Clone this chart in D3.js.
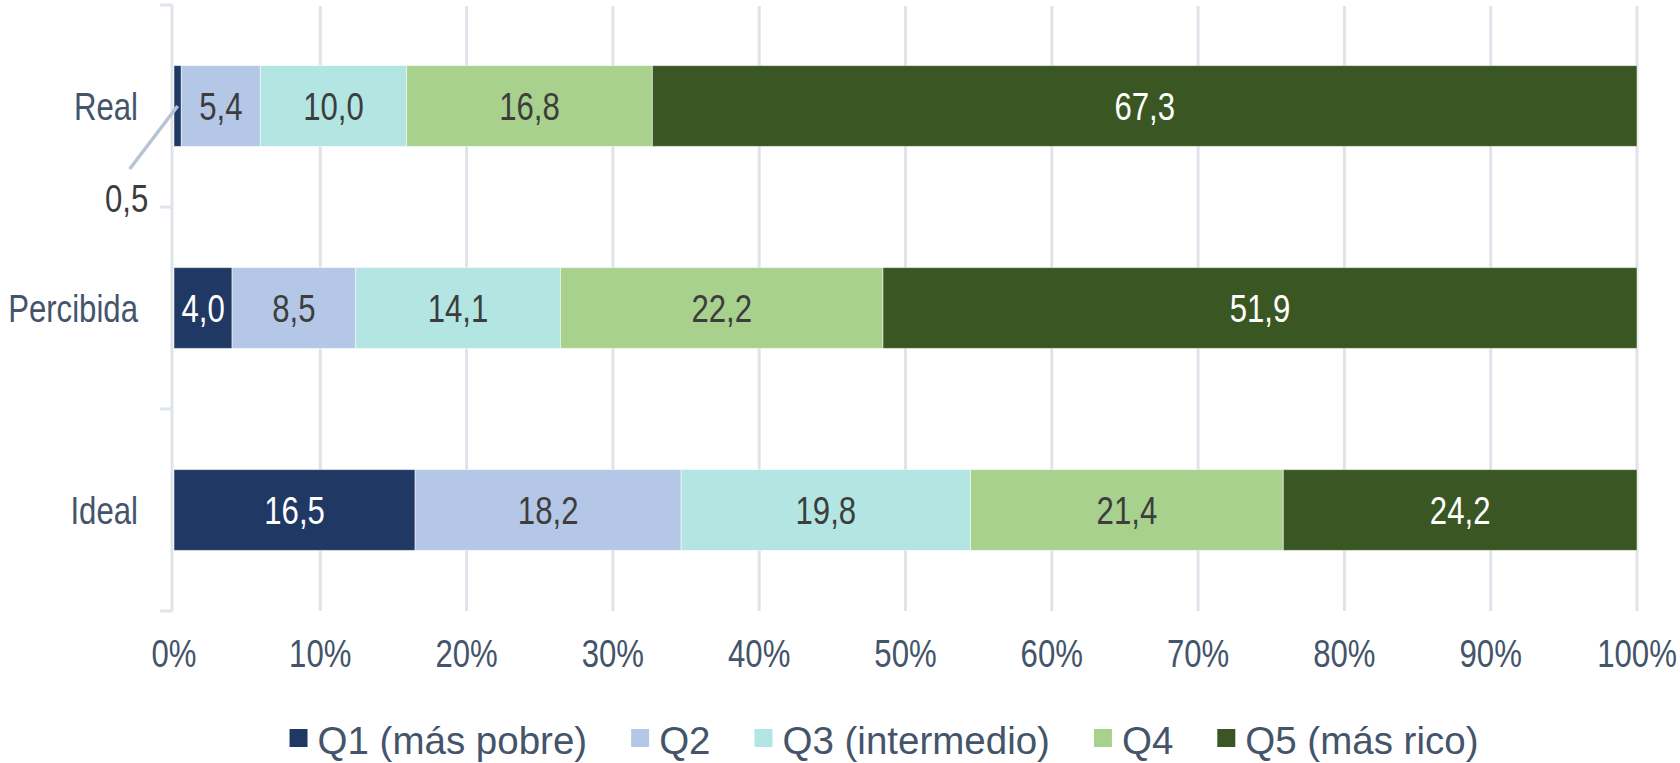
<!DOCTYPE html>
<html>
<head>
<meta charset="utf-8">
<script src="https://cdn.jsdelivr.net/npm/d3@7"></script>
<style>
  body { margin: 0; background: #fff; }
  text { font-family: "Liberation Sans", Arial, sans-serif; }
</style>
</head>
<body>
<div id="chart"></div>
<script>
// data
const categories = ["Real", "Percibida", "Ideal"];
const seriesNames = ["Q1 (más pobre)", "Q2", "Q3 (intermedio)", "Q4", "Q5 (más rico)"];
const q1 = [0.5, 4.0, 16.5];
const q2 = [5.4, 8.5, 18.2];
const q3 = [10.0, 14.1, 19.8];
const q4 = [16.8, 22.2, 21.4];
const q5 = [67.3, 51.9, 24.2];
const tickValues = [0, 0.1, 0.2, 0.3, 0.4, 0.5, 0.6, 0.7, 0.8, 0.9, 1];

const colors = ["#203864", "#b4c7e7", "#b3e5e3", "#a9d18e", "#3a5723"];
const labelColors = ["#ffffff", "#3d3d3d", "#3d3d3d", "#3d3d3d", "#ffffff"];
const axisText = "#44546a";
const gridColor = "#dfe3ea";
const NARROW = 0.82; // no Arial Narrow installed, squeeze Liberation Sans instead

const W = 1680, H = 763;
const margin = {top: 5, right: 43, bottom: 152, left: 174};
const width = W - margin.left - margin.right;
const height = H - margin.top - margin.bottom;

const rows = categories.map((c, i) => ({cat: c, s0: q1[i], s1: q2[i], s2: q3[i], s3: q4[i], s4: q5[i]}));
const keys = ["s0", "s1", "s2", "s3", "s4"];
const stacked = d3.stack().keys(keys).offset(d3.stackOffsetExpand)(rows);

const svg = d3.select("#chart").append("svg")
    .attr("width", W)
    .attr("height", H);

const g = svg.append("g")
    .attr("transform", `translate(${margin.left},${margin.top})`);

const x = d3.scaleLinear().domain([0, 1]).range([0, width]);
const y = d3.scaleBand().domain(categories).range([0, height])
    .paddingInner(0.6).paddingOuter(0.3);

// narrow text helper
function narrowText(parent, tx, ty, txt, anchor, color, size) {
    return parent.append("text")
        .attr("transform", `translate(${tx},${ty}) scale(${NARROW},1)`)
        .attr("text-anchor", anchor)
        .attr("dominant-baseline", "central")
        .attr("font-size", size)
        .attr("fill", color)
        .text(txt);
}

// gridlines
g.append("g")
    .selectAll("line")
    .data(tickValues.slice(1))
    .enter().append("line")
    .attr("x1", d => x(d)).attr("x2", d => x(d))
    .attr("y1", 1).attr("y2", height)
    .attr("stroke", gridColor)
    .attr("stroke-width", 3);

// left axis (category boundaries)
const yBounds = [0, ...categories.slice(1).map(c => y(c) - y.step() * y.paddingInner() / 2), height];
const yAxis = g.append("g");
yAxis.append("line")
    .attr("x1", -2).attr("x2", -2)
    .attr("y1", 0).attr("y2", height)
    .attr("stroke", gridColor).attr("stroke-width", 3);
yAxis.selectAll(".tk")
    .data(yBounds)
    .enter().append("line")
    .attr("class", "tk")
    .attr("x1", -14).attr("x2", -2)
    .attr("y1", d => d).attr("y2", d => d)
    .attr("stroke", gridColor).attr("stroke-width", 3);

// category labels
categories.forEach(c => {
    narrowText(g, -36, y(c) + y.bandwidth() / 2 + 1, c, "end", axisText, 38);
});

// bars
const layers = g.selectAll(".layer")
    .data(stacked)
    .enter().append("g")
    .attr("class", "layer")
    .attr("fill", (d, i) => colors[i]);

layers.selectAll("rect")
    .data(d => d)
    .enter().append("rect")
    .attr("x", d => x(d[0]))
    .attr("y", d => y(d.data.cat))
    .attr("width", d => x(d[1]) - x(d[0]))
    .attr("height", y.bandwidth())
    .attr("stroke", "#ffffff")
    .attr("stroke-opacity", 0.5)
    .attr("stroke-width", 1);

// value labels
const fmt = v => d3.format(".1f")(v).replace(".", ",");
stacked.forEach((layer, li) => {
    layer.forEach(d => {
        const v = d.data[keys[li]];
        const cx = (x(d[0]) + x(d[1])) / 2;
        const cy = y(d.data.cat) + y.bandwidth() / 2;
        if (v < 1) {
            // small value: leader line + label outside
            g.append("line")
                .attr("x1", cx).attr("y1", cy)
                .attr("x2", cx - 48).attr("y2", cy + 63)
                .attr("stroke", "#b8c4d3").attr("stroke-width", 3.5);
            narrowText(g, cx - 51, cy + 93, fmt(v), "middle", "#3d3d3d", 38);
        } else {
            narrowText(g, cx, cy + 1, fmt(v), "middle", labelColors[li], 38);
        }
    });
});

// x axis labels
const xAxis = g.append("g")
    .attr("transform", `translate(0,${height + 43})`);
tickValues.forEach(t => {
    narrowText(xAxis, x(t), 0, d3.format(".0%")(t), "middle", axisText, 38);
});

// legend
const legend = svg.append("g");
const items = legend.selectAll(".item")
    .data(seriesNames)
    .enter().append("g")
    .attr("class", "item");
items.append("rect")
    .attr("width", 18).attr("height", 18)
    .attr("y", -9)
    .attr("fill", (d, i) => colors[i]);
items.append("text")
    .attr("x", 28)
    .attr("dominant-baseline", "central")
    .attr("y", 2)
    .attr("font-size", 38.5)
    .attr("fill", axisText)
    .text(d => d);
let offs = 0;
const pos = [];
items.each(function() {
    const w = 28 + d3.select(this).select("text").node().getComputedTextLength();
    pos.push(offs);
    offs += w + 44;
});
const total = offs - 44;
const lx = 884 - total / 2;
items.attr("transform", (d, i) => `translate(${lx + pos[i]},738)`);
</script>
</body>
</html>
